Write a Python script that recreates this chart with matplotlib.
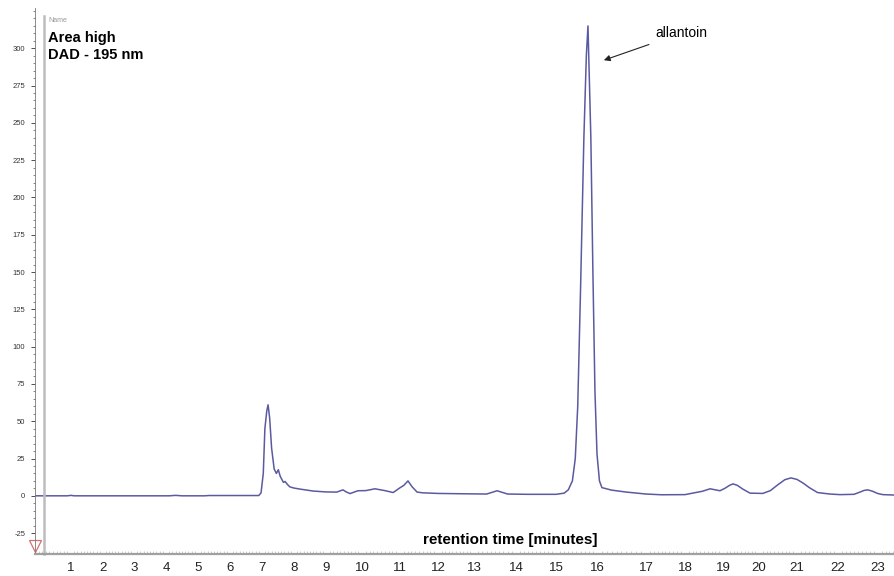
import numpy as np
import matplotlib
matplotlib.use('Agg')
import matplotlib.pyplot as plt

plt.rcParams['font.family'] = ['Liberation Sans', 'DejaVu Sans']
plt.rcParams['axes.unicode_minus'] = False

# chromatogram trace (minutes, mAU)
time = [0, 0.9, 1.0, 1.1, 4.1, 4.3, 4.5, 5.2, 5.35, 6.9, 6.97, 7.04, 7.09, 7.15,
        7.19, 7.24, 7.3, 7.38, 7.45, 7.51, 7.57, 7.62, 7.67, 7.72, 7.8, 7.87, 8.0,
        8.19, 8.6, 9.0, 9.3, 9.47, 9.57, 9.67, 9.78, 9.89, 10.1, 10.34, 10.6, 10.82,
        11.0, 11.1, 11.21, 11.32, 11.45, 11.6, 12.0, 12.6, 13.3, 13.45, 13.55, 13.65,
        13.8, 14.3, 15.0, 15.2, 15.3, 15.4, 15.47, 15.53, 15.6, 15.68, 15.74,
        15.78, 15.85, 15.9, 15.95, 16.0, 16.05, 16.1, 16.3, 16.6, 17.0, 17.4, 18.0,
        18.2, 18.45, 18.66, 18.8, 18.92, 19.05, 19.18, 19.28, 19.4, 19.55, 19.75,
        20.1, 20.3, 20.5, 20.68, 20.84, 21.0, 21.15, 21.3, 21.5, 21.8, 22.05, 22.4,
        22.55, 22.65, 22.74, 22.85, 23.0, 23.13, 23.45]
signal = [0, 0, 0.3, 0, 0, 0.3, 0, 0, 0.2, 0.2, 2, 15, 45, 57,
          61, 52, 32, 18, 15, 17.5, 13, 11, 9, 9.6, 7.5, 6, 5.2,
          4.5, 3.2, 2.6, 2.5, 4, 2.5, 1.5, 2.5, 3.4, 3.5, 4.7, 3.5, 2.2,
          5.4, 7, 10, 6, 2.5, 2, 1.6, 1.4, 1.2, 2.5, 3.4, 2.5,
          1.2, 1.0, 1.0, 1.8, 4, 10, 25, 60, 140, 240, 295,
          315, 240, 150, 70, 28, 10, 5.5, 3.8, 2.5, 1.2, 0.7, 0.8,
          1.8, 3, 4.7, 4, 3.4, 5, 7, 8, 7, 4.5, 1.8,
          1.6, 3.5, 7.5, 10.8, 12, 11, 8.5, 5.5, 2.2, 1.2, 0.8, 1,
          2.5, 3.6, 4, 3.2, 1.5, 0.8, 0.5]

tick_minutes = list(range(1, 24))
tick_labels = [str(m) for m in tick_minutes]

# the printed time axis is not evenly spaced; map minutes to where the labels sit
axis_minutes = [0] + tick_minutes + [23.45]
axis_px = [35, 71, 103, 134, 166, 198, 230, 262, 294, 326, 362, 400, 438, 474,
           516, 556, 597, 646, 685, 723, 759, 797, 838, 878, 895]


def fwd(x):
    return np.interp(x, axis_minutes, axis_px)


def inv(p):
    return np.interp(p, axis_px, axis_minutes)


fig = plt.figure(figsize=(8.95, 5.76), dpi=100)
ax = fig.add_axes([35 / 895, 22 / 576, 860 / 895, 546 / 576])
ax.set_xscale('function', functions=(fwd, inv))

ax.plot(time, signal, color='#5a5aa0', lw=1.1)

ax.set_xlim(0, 23.45)
ax.set_ylim(-39, 327)

for s in ['top', 'right']:
    ax.spines[s].set_visible(False)
ax.spines['left'].set_color('#777777')
ax.spines['left'].set_linewidth(0.6)
ax.spines['bottom'].set_color('#a0a0a0')
ax.spines['bottom'].set_linewidth(1.6)

ax.set_yticks(np.arange(-25, 301, 25))
ax.set_yticks(np.arange(-35, 326, 5), minor=True)
ax.tick_params(axis='y', which='major', length=3, width=0.6, color='#333333',
               labelsize=5.5, labelcolor='#333333', pad=4)
ax.tick_params(axis='y', which='minor', length=1.8, width=0.5, color='#555555')

ax.set_xticks(tick_minutes)
ax.set_xticklabels(tick_labels)
ax.set_xticks(np.arange(0, 23.45, 0.1), minor=True)
ax.tick_params(axis='x', which='major', length=0, labelsize=9.5,
               labelcolor='#222222', pad=6)
ax.tick_params(axis='x', which='minor', direction='in', length=2, width=0.5,
               color='#b8b8b8')

# grey cursor line of the software
ax.plot([0.0105, 0.0105], [0, 0.985], transform=ax.transAxes, color='#bdbdbd',
        lw=1.8, clip_on=False)
# red marker at the axis corner
ax.plot([0], [0.014], transform=ax.transAxes, marker='v', ms=9, mfc='white',
        mec='#d87070', mew=0.9, clip_on=False)

fig.text(48 / 895, 1 - 21 / 576, 'Name', fontsize=5, color='#999999', va='center')
fig.text(48 / 895, 1 - 38 / 576, 'Area high', fontsize=10.5, fontweight='bold',
         va='center')
fig.text(48 / 895, 1 - 55 / 576, 'DAD - 195 nm', fontsize=10.5, fontweight='bold',
         va='center')

ax.annotate('allantoin', xy=(16.14, 292), xytext=(17.23, 310), fontsize=10,
            va='center', ha='left',
            arrowprops=dict(arrowstyle='-|>', color='#222222', lw=0.8,
                            mutation_scale=9, shrinkA=3, shrinkB=0))

fig.text(510 / 895, 1 - 540 / 576, 'retention time [minutes]', fontsize=11,
         fontweight='bold', ha='center', va='center')

fig.savefig('out.png', dpi=100, facecolor='white')
